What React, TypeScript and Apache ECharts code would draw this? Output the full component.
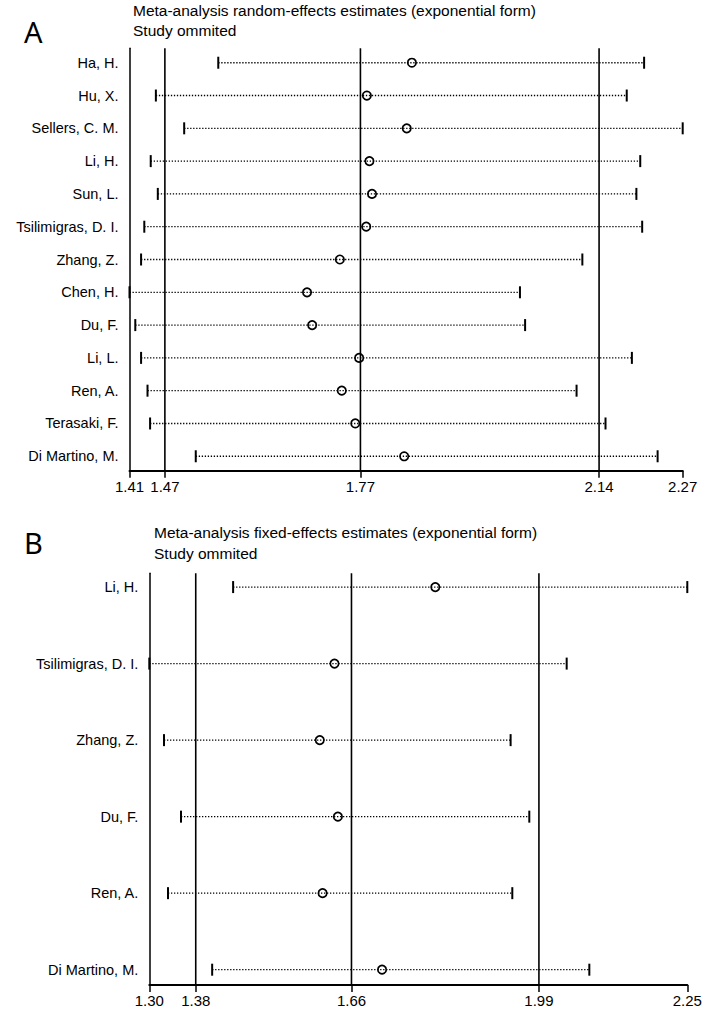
import React, { useEffect, useRef } from "react";
import * as echarts from "echarts";

// ---------- Panel A: random-effects ----------
const studiesA = ["Ha, H.", "Hu, X.", "Sellers, C. M.", "Li, H.", "Sun, L.", "Tsilimigras, D. I.", "Zhang, Z.", "Chen, H.", "Du, F.", "Li, L.", "Ren, A.", "Terasaki, F.", "Di Martino, M."];
const lowerA = [1.548, 1.451, 1.495, 1.443, 1.454, 1.433, 1.428, 1.41, 1.419, 1.428, 1.438, 1.442, 1.513];
const estA = [1.849, 1.779, 1.841, 1.783, 1.787, 1.778, 1.737, 1.686, 1.694, 1.767, 1.740, 1.761, 1.837];
const upperA = [2.210, 2.183, 2.27, 2.204, 2.198, 2.207, 2.114, 2.017, 2.025, 2.191, 2.105, 2.150, 2.231];
const tickValuesA = [1.41, 1.465, 1.769, 2.14, 2.27];
const tickLabelsA = ["1.41", "1.47", "1.77", "2.14", "2.27"];
const refLinesA = [1.465, 1.769, 2.14];

// ---------- Panel B: fixed-effects ----------
const studiesB = ["Li, H.", "Tsilimigras, D. I.", "Zhang, Z.", "Du, F.", "Ren, A.", "Di Martino, M."];
const lowerB = [1.448, 1.30, 1.326, 1.356, 1.333, 1.411];
const estB = [1.805, 1.627, 1.601, 1.633, 1.606, 1.711];
const upperB = [2.25, 2.037, 1.938, 1.971, 1.941, 2.077];
const tickValuesB = [1.30, 1.382, 1.657, 1.988, 2.25];
const tickLabelsB = ["1.30", "1.38", "1.66", "1.99", "2.25"];
const refLinesB = [1.382, 1.657, 1.988];

const titleA = "Meta-analysis random-effects estimates (exponential form)";
const titleB = "Meta-analysis fixed-effects estimates (exponential form)";
const subtitle = "Study ommited";

const FONT = '"Liberation Sans", Arial, Helvetica, sans-serif';

function nearestLabel(v: number, ticks: number[], labels: string[]) {
  let best = 0;
  for (let i = 1; i < ticks.length; i++) {
    if (Math.abs(ticks[i] - v) < Math.abs(ticks[best] - v)) best = i;
  }
  return labels[best];
}

function xAxisDef(gridIndex: number, min: number, max: number, ticks: number[], labels: string[]) {
  return {
    type: "value",
    gridIndex,
    min,
    max,
    axisLine: { show: true, onZero: false, lineStyle: { color: "#000", width: 2 } },
    axisTick: { show: true, customValues: ticks, length: 7, lineStyle: { color: "#000", width: 1.5 } },
    axisLabel: {
      customValues: ticks,
      formatter: (v: number) => nearestLabel(v, ticks, labels),
      color: "#000",
      fontSize: 15,
      fontFamily: FONT,
      margin: 8,
    },
    splitLine: { show: false },
  };
}

function yAxisDef(gridIndex: number, min: number, max: number, names: string[]) {
  return {
    type: "value",
    gridIndex,
    inverse: true,
    min,
    max,
    axisLine: { show: true, onZero: false, lineStyle: { color: "#000", width: 1.5 } },
    axisTick: { show: false },
    splitLine: { show: false },
    axisLabel: {
      customValues: names.map((_, i) => i),
      formatter: (v: number) => names[Math.round(v)] ?? "",
      color: "#000",
      fontSize: 14.5,
      fontFamily: FONT,
      margin: 11,
    },
  };
}

function ciSeries(idx: number, lower: number[], est: number[], upper: number[]) {
  return {
    type: "custom",
    xAxisIndex: idx,
    yAxisIndex: idx,
    data: lower.map((l, i) => [l, est[i], upper[i], i]),
    encode: { x: [0, 1, 2], y: 3 },
    clip: false,
    renderItem: (params: any, api: any) => {
      const y = api.value(3);
      const p1 = api.coord([api.value(0), y]);
      const p2 = api.coord([api.value(1), y]);
      const p3 = api.coord([api.value(2), y]);
      return {
        type: "group",
        children: [
          {
            type: "line",
            shape: { x1: p1[0], y1: p1[1], x2: p3[0], y2: p3[1] },
            style: { stroke: "#000", lineWidth: 1.3, lineDash: [1.3, 1.7] },
          },
          {
            type: "line",
            shape: { x1: p1[0], y1: p1[1] - 6, x2: p1[0], y2: p1[1] + 6 },
            style: { stroke: "#000", lineWidth: 2 },
          },
          {
            type: "line",
            shape: { x1: p3[0], y1: p3[1] - 6, x2: p3[0], y2: p3[1] + 6 },
            style: { stroke: "#000", lineWidth: 2 },
          },
          {
            type: "circle",
            shape: { cx: p2[0], cy: p2[1], r: 4.2 },
            style: { fill: "none", stroke: "#000", lineWidth: 1.7 },
          },
        ],
      };
    },
  };
}

function refSeries(idx: number, refs: number[]) {
  return {
    type: "custom",
    xAxisIndex: idx,
    yAxisIndex: idx,
    data: refs.map((v) => [v, 0]),
    encode: { x: 0, y: 1 },
    renderItem: (params: any, api: any) => {
      const x = api.coord([api.value(0), 0])[0];
      const cs = params.coordSys;
      return {
        type: "line",
        shape: { x1: x, y1: cs.y, x2: x, y2: cs.y + cs.height },
        style: { stroke: "#000", lineWidth: 1.6 },
      };
    },
  };
}

function textEl(text: string, x: number, y: number, size: number, family: string) {
  return {
    type: "text",
    x,
    y,
    style: { text, fontSize: size, fontFamily: family, fill: "#000", align: "left", verticalAlign: "middle" },
  };
}

export default function App() {
  const ref = useRef<HTMLDivElement>(null);
  useEffect(() => {
    if (!ref.current) return;
    const chart = echarts.init(ref.current, undefined, { renderer: "svg" });
    const option = {
      animation: false,
      backgroundColor: "#fff",
      grid: [
        { left: 129.5, width: 553.2, top: 48.3, height: 422.4 },
        { left: 149.3, width: 538, top: 573.3, height: 411.7 },
      ],
      xAxis: [
        xAxisDef(0, 1.41, 2.27, tickValuesA, tickLabelsA),
        xAxisDef(1, 1.30, 2.25, tickValuesB, tickLabelsB),
      ],
      yAxis: [
        yAxisDef(0, -0.44, studiesA.length - 1 + 0.44, studiesA),
        yAxisDef(1, -0.18, studiesB.length - 1 + 0.2, studiesB),
      ],
      series: [
        refSeries(0, refLinesA),
        ciSeries(0, lowerA, estA, upperA),
        refSeries(1, refLinesB),
        ciSeries(1, lowerB, estB, upperB),
      ],
      graphic: [
        textEl("A", 24, 31, 29, '"Noto Sans", "DejaVu Sans", sans-serif'),
        textEl(titleA, 133, 10, 15.5, FONT),
        textEl(subtitle, 133, 30, 15.5, FONT),
        textEl("B", 24, 542, 29, '"Noto Sans", "DejaVu Sans", sans-serif'),
        textEl(titleB, 154, 532, 15.5, FONT),
        textEl(subtitle, 154, 553, 15.5, FONT),
      ],
    };
    chart.setOption(option as any);
    return () => chart.dispose();
  }, []);
  return (
    <div
      ref={ref}
      style={{ position: "fixed", left: 0, top: 0, width: 708, height: 1010, background: "#fff" }}
    />
  );
}
